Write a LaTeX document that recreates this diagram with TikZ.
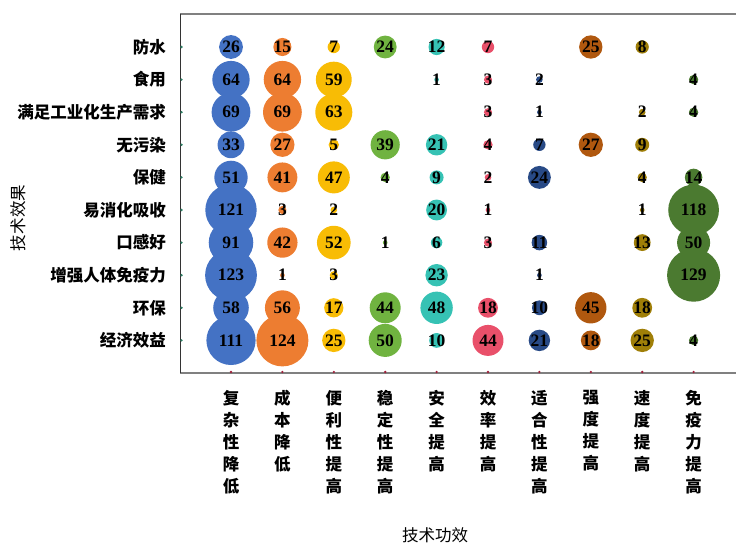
\documentclass[tikz,border=0pt]{standalone}
\usepackage{fontspec}
\setmainfont{Liberation Serif}
\newfontfamily\cjk{Noto Sans CJK SC}
\definecolor{col1}{HTML}{4472C4}
\definecolor{col2}{HTML}{ED7D31}
\definecolor{col3}{HTML}{F8BC05}
\definecolor{col4}{HTML}{70B340}
\definecolor{col5}{HTML}{36C2B4}
\definecolor{col6}{HTML}{E9506A}
\definecolor{col7}{HTML}{284A86}
\definecolor{col8}{HTML}{B0580F}
\definecolor{col9}{HTML}{A07F08}
\definecolor{col10}{HTML}{4B7A30}
\definecolor{rowtick}{HTML}{2E7D64}
\definecolor{coltick}{HTML}{A0203A}
% values per effect (rows), one entry per function (columns); 0 = no bubble
\def\effdata{{26,15,7,24,12,7,0,25,8,0},{64,64,59,0,1,3,2,0,0,4},{69,69,63,0,0,3,1,0,2,4},{33,27,5,39,21,4,7,27,9,0},{51,41,47,4,9,2,24,0,4,14},{121,3,2,0,20,1,0,0,1,118},{91,42,52,1,6,3,11,0,13,50},{123,1,3,0,23,0,1,0,0,129},{58,56,17,44,48,18,10,45,18,0},{111,124,25,50,10,44,21,18,25,4}}

\begin{document}
\begin{tikzpicture}[
    x=1bp, y=-1bp,
    bubble/.style={circle, inner sep=0pt, minimum size=#1},
    num/.style={inner sep=0pt, font=\fontsize{17.5bp}{17.5bp}\selectfont\bfseries},
    rowlab/.style={anchor=east, inner sep=0pt, font=\fontsize{16.5bp}{16.5bp}\cjk\bfseries},
    collab/.style={anchor=north, inner sep=0pt, align=center, font=\fontsize{16.5bp}{22bp}\cjk\bfseries},
    axtitle/.style={inner sep=0pt, font=\fontsize{16.5bp}{16.5bp}\cjk},
    frame/.style={draw=gray, line width=1.4bp},
    leftaxis/.style={draw=black!80, line width=1bp},
]
\useasboundingbox (0,0) rectangle (736,544);

% plot frame
\draw[frame] (180,14) -- (736,14);
\draw[frame] (180,373) -- (736,373);
\draw[leftaxis] (180,14) -- (180,373);

% tick marks
\foreach \r in {1,...,10}
    \fill[rowtick] (181.5, {47+32.6*(\r-1)}) circle [radius=1.3];
\foreach \c in {1,...,10}
    \fill[coltick] ({231+51.4*(\c-1)}, 372) circle [radius=1.3];

% bubbles first, numbers on top
\foreach \vals [count=\r] in \effdata {
    \foreach \v [count=\c] in \vals {
        \ifnum\v>0
            \pgfmathsetmacro\d{4.67*sqrt(\v)}
            \node[bubble=\d bp, fill=col\c] (b\r-\c) at ({231+51.4*(\c-1)}, {47+32.6*(\r-1)}) {};
        \fi
    }
}
\foreach \vals [count=\r] in \effdata {
    \foreach \v [count=\c] in \vals {
        \ifnum\v>0
            \node[num] (n\r-\c) at (b\r-\c) {\v};
        \fi
    }
}

% effect labels (rows)
\foreach \lab [count=\r] in {防水,食用,满足工业化生产需求,无污染,保健,易消化吸收,口感好,增强人体免疫力,环保,经济效益}
    \node[rowlab] (r\r) at (166, {47+32.6*(\r-1)}) {\lab};

% function labels (columns), one character per line
\foreach \lab [count=\c] in {{复\\杂\\性\\降\\低},{成\\本\\降\\低},{便\\利\\性\\提\\高},{稳\\定\\性\\提\\高},{安\\全\\提\\高},{效\\率\\提\\高},{适\\合\\性\\提\\高},{强\\度\\提\\高},{速\\度\\提\\高},{免\\疫\\力\\提\\高}}
    \node[collab] (c\c) at ({231+51.4*(\c-1)}, 390) {\lab};

% axis titles
\node[axtitle, rotate=90] (ytitle) at (18,218) {技术效果};
\node[axtitle] (xtitle) at (435,535) {技术功效};
\end{tikzpicture}
\end{document}
